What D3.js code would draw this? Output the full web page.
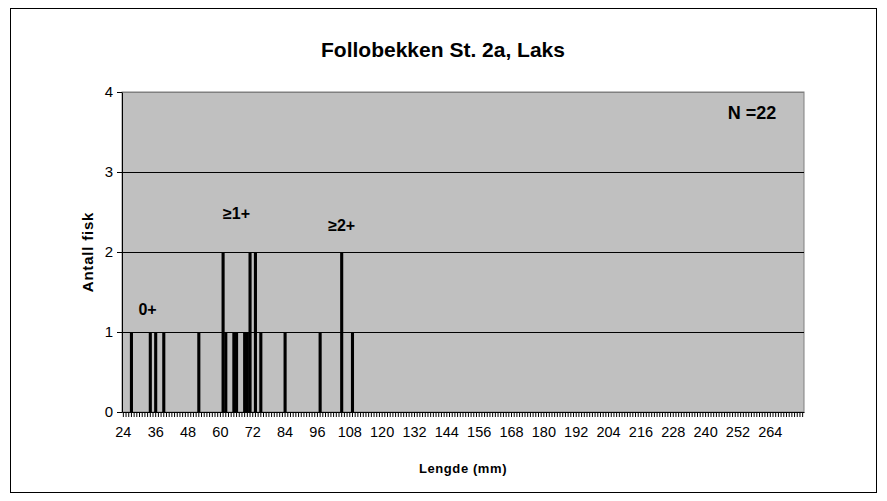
<!DOCTYPE html>
<html>
<head>
<meta charset="utf-8">
<script src="https://cdn.jsdelivr.net/npm/d3@7"></script>
<style>
  body { margin: 0; background: #fff; }
  svg text { font-family: "Liberation Sans", Arial, sans-serif; }
</style>
</head>
<body>
<div id="wrapper"></div>
<script>
// Lengths (mm) with observed fish and counts
var lengths = [27, 34, 36, 39, 52, 61, 62, 65, 66, 69, 70, 71, 73, 75, 84, 97, 105, 109];
var counts  = [1, 1, 1, 1, 1, 2, 1, 1, 1, 1, 1, 2, 2, 1, 1, 1, 2, 1];
var firstLength = 24;
var lastLength = 276;
var xTickLabels = [24, 36, 48, 60, 72, 84, 96, 108, 120, 132, 144, 156, 168, 180, 192, 204, 216, 228, 240, 252, 264];
var yTicks = [0, 1, 2, 3, 4];
var ageLabels = ["0+", "≥1+", "≥2+"];
var ageLabelAt = [[33, 1.21], [66, 2.41], [105, 2.26]];   // [length, count] where the label sits

var dimensions = {
  width: 887,
  height: 501,
  margin: { top: 92, right: 83, bottom: 89, left: 122 }
};
dimensions.boundedWidth = dimensions.width - dimensions.margin.left - dimensions.margin.right;
dimensions.boundedHeight = dimensions.height - dimensions.margin.top - dimensions.margin.bottom;

var categories = [];
for (var l = firstLength; l <= lastLength; l++) categories.push(l);

var dataset = lengths.map(function (d, i) { return { length: d, count: counts[i] }; });

const wrapper = d3.select("#wrapper")
  .append("svg")
  .attr("width", dimensions.width)
  .attr("height", dimensions.height);

// chart area border
wrapper.append("rect")
  .attr("x", 10.5).attr("y", 8.5)
  .attr("width", 866).attr("height", 484)
  .attr("fill", "#fff")
  .attr("stroke", "#000")
  .attr("stroke-width", 1);

const bounds = wrapper.append("g")
  .attr("transform", `translate(${dimensions.margin.left},${dimensions.margin.top})`);

const xScale = d3.scaleBand()
  .domain(categories)
  .range([0, dimensions.boundedWidth])
  .padding(0);

const yScale = d3.scaleLinear()
  .domain([0, 4])
  .range([dimensions.boundedHeight, 0]);

// plot area
bounds.append("rect")
  .attr("x", 0).attr("y", 0)
  .attr("width", dimensions.boundedWidth)
  .attr("height", dimensions.boundedHeight)
  .attr("fill", "#c0c0c0")
  .attr("stroke", "#808080")
  .attr("stroke-width", 1);

// gridlines
bounds.append("g")
  .selectAll("line")
  .data(yTicks.filter(function (d) { return d > 0; }))
  .enter()
  .append("line")
  .attr("x1", 0)
  .attr("x2", dimensions.boundedWidth)
  .attr("y1", function (d) { return Math.round(yScale(d)) + 0.5; })
  .attr("y2", function (d) { return Math.round(yScale(d)) + 0.5; })
  .attr("stroke", function (d) { return d === 4 ? "#808080" : "#000"; })
  .attr("stroke-width", 1);

// bars
bounds.append("g")
  .selectAll("rect")
  .data(dataset)
  .enter()
  .append("rect")
  .attr("x", function (d) { return xScale(d.length) - 0.2; })
  .attr("y", function (d) { return yScale(d.count); })
  .attr("width", xScale.bandwidth() + 0.4)
  .attr("height", function (d) { return dimensions.boundedHeight - yScale(d.count); })
  .attr("fill", "#000");

// Y axis
const yAxisGenerator = d3.axisLeft(yScale).tickValues(yTicks).tickSize(5).tickSizeOuter(0).tickFormat(d3.format("d"));
const yAxis = bounds.append("g").call(yAxisGenerator);
yAxis.select(".domain").attr("stroke", "#000");
yAxis.selectAll("text").style("font-size", "15px").attr("x", -9).attr("fill", "#000");

// X axis: a tick for every mm, labels every 12
const xAxisGenerator = d3.axisBottom(xScale)
  .tickSize(5)
  .tickSizeOuter(0)
  .tickFormat(function (d) { return xTickLabels.indexOf(d) >= 0 ? d : ""; });
const xAxis = bounds.append("g")
  .attr("transform", `translate(0,${dimensions.boundedHeight})`)
  .call(xAxisGenerator);
xAxis.select(".domain").attr("stroke", "#000");
xAxis.selectAll(".tick line").attr("stroke", "#000");
xAxis.selectAll("text").style("font-size", "14.5px").attr("y", 15).attr("fill", "#000");

// title
wrapper.append("text")
  .attr("x", 443)
  .attr("y", 57)
  .attr("text-anchor", "middle")
  .style("font-size", "21px")
  .style("font-weight", "bold")
  .text("Follobekken St. 2a, Laks");

// axis descriptions
wrapper.append("text")
  .attr("transform", `translate(93,${dimensions.margin.top + dimensions.boundedHeight / 2}) rotate(-90)`)
  .attr("text-anchor", "middle")
  .style("font-size", "15px")
  .style("font-weight", "bold")
  .style("letter-spacing", "0.8px")
  .text("Antall fisk");

wrapper.append("text")
  .attr("x", dimensions.margin.left + dimensions.boundedWidth / 2)
  .attr("y", 473)
  .attr("text-anchor", "middle")
  .style("font-size", "13px")
  .style("font-weight", "bold")
  .style("letter-spacing", "0.6px")
  .text("Lengde (mm)");

// age group labels
bounds.append("g")
  .selectAll("text")
  .data(ageLabels)
  .enter()
  .append("text")
  .attr("x", function (d, i) { return xScale(ageLabelAt[i][0]) + xScale.bandwidth() / 2; })
  .attr("y", function (d, i) { return yScale(ageLabelAt[i][1]); })
  .attr("text-anchor", "middle")
  .style("font-size", "16px")
  .style("font-weight", "bold")
  .text(function (d) { return d; });

// N label
wrapper.append("text")
  .attr("x", 752)
  .attr("y", 119)
  .attr("text-anchor", "middle")
  .style("font-size", "18px")
  .style("font-weight", "bold")
  .text("N =22");
</script>
</body>
</html>
